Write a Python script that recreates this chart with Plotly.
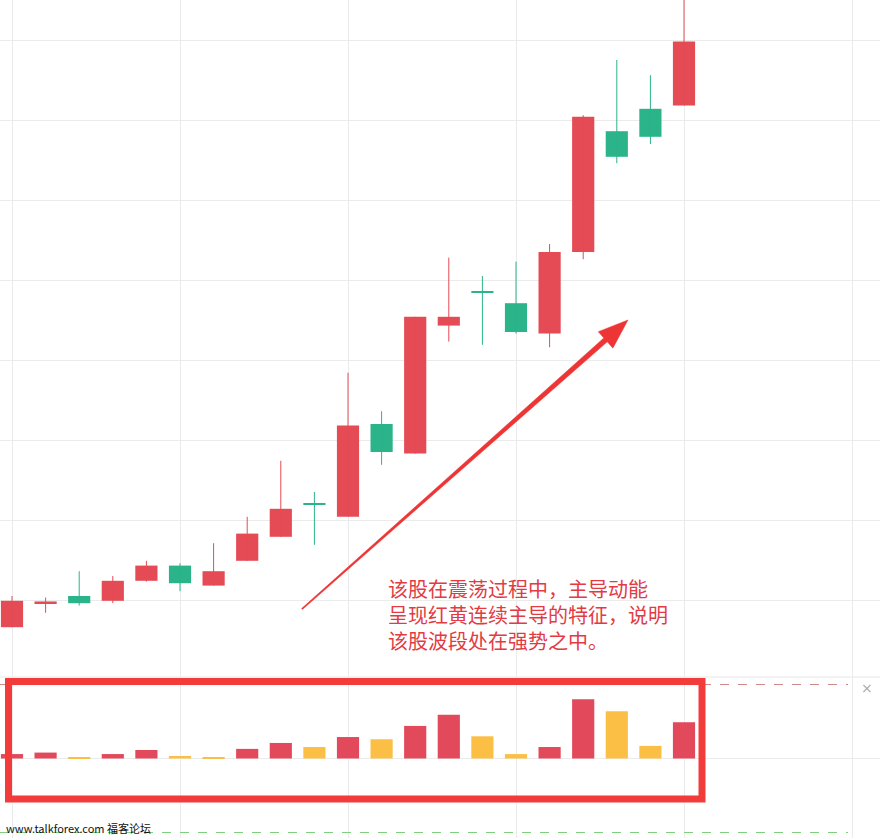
import numpy as np
import plotly.graph_objects as go

# ---- data ----
idx = list(range(21))
opens  = [9.66, 9.96, 10.05, 9.99, 10.24, 10.43, 10.18, 10.49, 10.79, 11.19, 11.04, 12.20, 11.83, 13.43, 13.84, 13.71, 13.33, 14.35, 15.86, 16.14, 16.18]
closes = [9.99, 9.96, 9.96, 10.24, 10.43, 10.21, 10.36, 10.83, 11.14, 11.19, 12.18, 11.85, 13.54, 13.54, 13.84, 13.35, 14.35, 16.04, 15.54, 15.79, 16.98]
highs  = [10.05, 10.03, 10.36, 10.30, 10.49, 10.46, 10.71, 11.04, 11.74, 11.35, 12.84, 12.36, 13.54, 14.28, 14.05, 14.23, 14.45, 16.06, 16.75, 16.56, 17.60]
lows   = [9.66, 9.84, 9.93, 9.96, 10.23, 10.11, 10.18, 10.49, 10.79, 10.69, 11.04, 11.69, 11.83, 13.23, 13.19, 13.33, 13.16, 14.26, 15.46, 15.70, 16.18]
candle_up = [True, True, False, True, True, False, True, True, True, False, True, False, True, True, False, False, True, True, False, False, True]

momentum = [6, 8, 2, 6, 11.5, 3.4, 1, 13, 21, 15.5, 29, 26, 44, 59, 30, 6, 15.5, 80, 64, 17, 49]
momentum_type = ["R", "R", "Y", "R", "R", "Y", "Y", "R", "R", "Y", "R", "Y", "R", "R", "Y", "Y", "R", "R", "Y", "Y", "R"]
level_hi, level_lo = 100, -100

note_lines = ["该股在震荡过程中，主导动能", "呈现红黄连续主导的特征，说明", "该股波段处在强势之中。"]
watermark = "www.talkforex.com 福客论坛"

# ---- styling ----
RED = "#e54b55"
GREEN = "#2bb38a"
YELLOW = "#fbbf45"
VRED = "#e2495a"
BOX_RED = "#f23c3c"
W, H = 880, 838
split = 677  # pixel row between panels

fig = go.Figure()

# candle bodies
body_base = [min(o, c) for o, c in zip(opens, closes)]
body_h = [max(abs(c - o), 0.022) for o, c in zip(opens, closes)]
fig.add_trace(go.Bar(
    x=idx, y=body_h, base=body_base, width=0.66,
    marker=dict(color=[RED if u else GREEN for u in candle_up], line=dict(width=0)),
    xaxis="x", yaxis="y", showlegend=False, hoverinfo="skip"))

# wicks
for up, col in [(True, RED), (False, GREEN)]:
    xs, ys = [], []
    for i, l, h, u in zip(idx, lows, highs, candle_up):
        if u == up:
            xs += [i, i, None]
            ys += [l, h, None]
    fig.add_trace(go.Scatter(x=xs, y=ys, mode="lines", line=dict(color=col, width=1),
                             xaxis="x", yaxis="y", showlegend=False, hoverinfo="skip"))

# momentum bars
fig.add_trace(go.Bar(
    x=idx, y=momentum, width=0.66,
    marker=dict(color=[VRED if t == "R" else YELLOW for t in momentum_type], line=dict(width=0)),
    xaxis="x2", yaxis="y2", showlegend=False, hoverinfo="skip"))

xr = [-12 / 33.6, (W - 12) / 33.6]
dom_split = 1 - split / H
grid = "#ebebeb"

fig.update_layout(
    width=W, height=H, margin=dict(l=0, r=0, t=0, b=0),
    paper_bgcolor="white", plot_bgcolor="white", barmode="overlay",
    xaxis=dict(domain=[0, 1], range=xr, anchor="y", dtick=5, tick0=0, showgrid=True,
               gridcolor=grid, gridwidth=1, showticklabels=False, zeroline=False, ticks=""),
    xaxis2=dict(domain=[0, 1], range=xr, anchor="y2", matches="x", dtick=5, tick0=0, showgrid=True,
                gridcolor=grid, gridwidth=1, showticklabels=False, zeroline=False, ticks=""),
    yaxis=dict(domain=[dom_split, 1], range=[17.5 - split / 80, 17.5], dtick=1, tick0=0,
               showgrid=True, gridcolor=grid, showticklabels=False, zeroline=False, ticks=""),
    yaxis2=dict(domain=[0, dom_split], range=[(758.5 - H) / 0.74, (758.5 - split) / 0.74],
                tickvals=[0], showgrid=True, gridcolor=grid, showticklabels=False,
                zeroline=False, ticks=""),
)

shapes = []
# panel separator
shapes.append(dict(type="line", xref="paper", yref="paper", x0=0, x1=1, y0=dom_split, y1=dom_split,
                   line=dict(color="#e6e6e6", width=1), layer="below"))
# level lines
shapes.append(dict(type="line", xref="paper", yref="y2", x0=0, x1=848 / W, y0=level_hi, y1=level_hi,
                   line=dict(color="#c98a8a", width=1, dash="dash")))
shapes.append(dict(type="line", xref="paper", yref="y2", x0=0, x1=848 / W, y0=level_lo, y1=level_lo,
                   line=dict(color="#7fcf7f", width=1, dash="dash")))
# red highlight rectangle
shapes.append(dict(type="rect", xref="paper", yref="paper",
                   x0=8.5 / W, x1=702 / W, y0=1 - 681.5 / H, y1=1 - 799 / H,
                   line=dict(color=BOX_RED, width=7), fillcolor="rgba(0,0,0,0)"))

# tapered arrow (pixel geometry -> paper)
tail = np.array([302.0, 609.0])
tip = np.array([628.0, 320.0])
d = tip - tail
u = d / np.linalg.norm(d)
n = np.array([-u[1], u[0]])
base = tip - 30 * u
pts = [tail + 0.6 * n, base + 2.6 * n, base + 11 * n, tip, base - 11 * n, base - 2.6 * n, tail - 0.6 * n]
path = "M " + " L ".join(f"{p[0] / W:.5f},{1 - p[1] / H:.5f}" for p in pts) + " Z"
shapes.append(dict(type="path", xref="paper", yref="paper", path=path,
                   fillcolor="#ee3535", line=dict(color="#ee3535", width=0.5)))
fig.update_layout(shapes=shapes)

ann = []
for k, line in enumerate(note_lines):
    ann.append(dict(xref="paper", yref="paper", x=386 / W, y=1 - (588.5 + 26 * k) / H,
                    xanchor="left", yanchor="middle", showarrow=False, text=line,
                    font=dict(family="Noto Sans CJK SC", size=20, color="#e23b44")))
ann.append(dict(xref="paper", yref="paper", x=4 / W, y=1 - 828 / H, xanchor="left", yanchor="middle",
                showarrow=False, text=watermark,
                font=dict(family="Noto Sans CJK SC", size=11, color="#111111")))
ann.append(dict(xref="paper", yref="paper", x=867 / W, y=1 - 688 / H, xanchor="center", yanchor="middle",
                showarrow=False, text="×", font=dict(family="DejaVu Sans", size=14, color="#aaaaaa")))
fig.update_layout(annotations=ann)

fig.write_html("out.html", config={"displayModeBar": False},
               post_script="document.body.style.margin='0';document.body.style.overflow='hidden';")
